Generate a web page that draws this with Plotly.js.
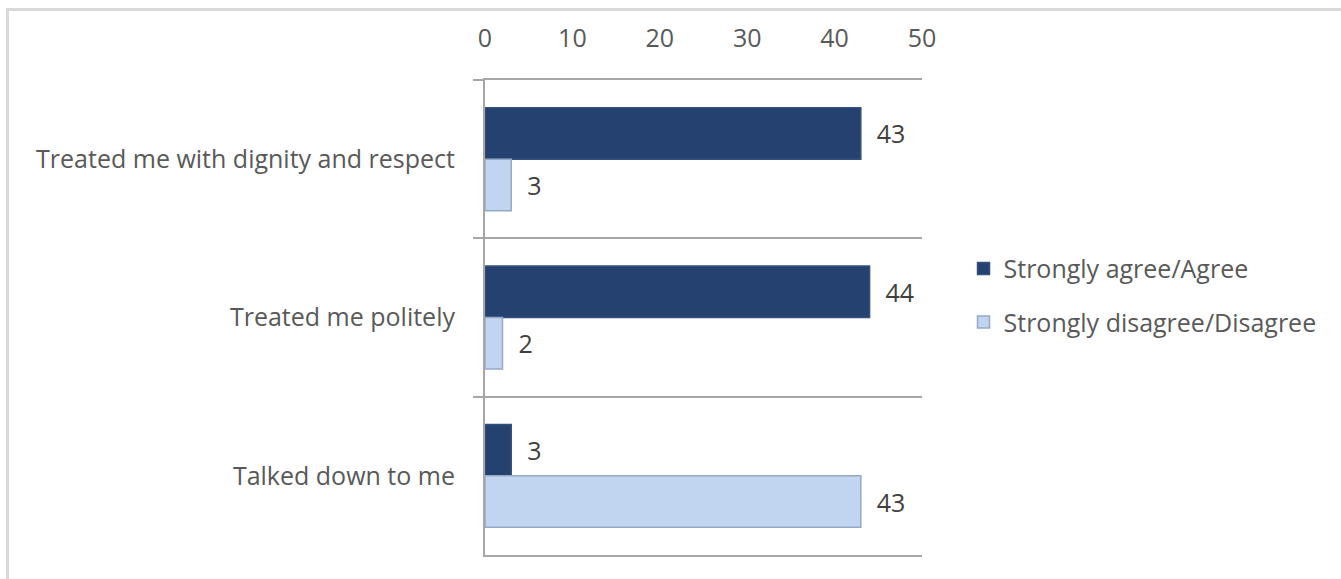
<!DOCTYPE html>
<html>
<head>
<meta charset="utf-8">
<script src="https://cdn.plot.ly/plotly-3.0.1.min.js"></script>
<style>
  html, body { margin: 0; padding: 0; background: #ffffff; }
  #wrap { position: relative; width: 1341px; height: 579px; overflow: hidden; }
  #chart { position: absolute; left: 0; top: 0; width: 1341px; height: 579px; }
  #frame { position: absolute; left: 6px; top: 8px; width: 1400px; height: 700px;
           border-top: 3px solid #d9d9d9; border-left: 3px solid #d9d9d9; pointer-events: none; }
</style>
</head>
<body>
<div id="wrap">
  <div id="chart"></div>
  <div id="frame"></div>
</div>
<script>
const categories = ["Treated me with dignity and respect", "Treated me politely", "Talked down to me"];
const seriesNames = ["Strongly agree/Agree", "Strongly disagree/Disagree"];
const agreeValues = [43, 44, 3];
const disagreeValues = [3, 2, 43];
const xTicks = [0, 10, 20, 30, 40, 50];

const FONT = "'Open Sans', 'Noto Sans', sans-serif";
const FS = 25;
const pad = "\u00a0\u00a0";

const traces = [
  {
    type: "bar", orientation: "h", name: seriesNames[0], legendgroup: "a",
    y: categories, x: agreeValues,
    marker: { color: "#254170", line: { color: "#34507e", width: 1.5 } },
    text: agreeValues.map(String), texttemplate: pad + "%{text}",
    textposition: "outside", cliponaxis: false,
    textfont: { family: FONT, size: FS, color: "#404040" },
    hoverinfo: "skip"
  },
  {
    type: "bar", orientation: "h", name: seriesNames[1], legendgroup: "b",
    y: categories, x: disagreeValues,
    marker: { color: "#c2d5f0", line: { color: "#95a9c6", width: 1.5 } },
    text: disagreeValues.map(String), texttemplate: pad + "%{text}",
    textposition: "outside", cliponaxis: false,
    textfont: { family: FONT, size: FS, color: "#404040" },
    hoverinfo: "skip"
  }
];

const layout = {
  width: 1341, height: 579,
  paper_bgcolor: "#ffffff", plot_bgcolor: "#ffffff",
  margin: { l: 485, r: 419, t: 80, b: 24, pad: 0 },
  barmode: "group", bargap: 0.35, bargroupgap: 0,
  font: { family: FONT, size: FS, color: "#595959" },
  showlegend: true,
  legend: {
    x: 1.095, xanchor: "left", y: 0.651, yanchor: "top",
    traceorder: "grouped", tracegroupgap: 18,
    font: { family: FONT, size: FS, color: "#595959" },
    itemwidth: 30, bgcolor: "rgba(0,0,0,0)"
  },
  xaxis: {
    side: "top", range: [0, 50], tickvals: xTicks, ticktext: xTicks.map(String),
    showgrid: false, zeroline: false, ticks: "", ticklabelstandoff: 21,
    showline: true, mirror: true, linecolor: "#a6a6a6", linewidth: 2,
    tickfont: { family: FONT, size: FS, color: "#595959" }, fixedrange: true
  },
  yaxis: {
    type: "category", autorange: "reversed",
    tickson: "boundaries", ticks: "outside", ticklen: 10, tickcolor: "#a6a6a6", tickwidth: 2,
    showgrid: true, gridcolor: "#a6a6a6", gridwidth: 2,
    showline: true, linecolor: "#a6a6a6", linewidth: 2,
    ticklabelstandoff: 23,
    tickfont: { family: FONT, size: FS, color: "#595959" }, fixedrange: true
  }
};

Plotly.newPlot("chart", traces, layout, { staticPlot: true, displayModeBar: false });
</script>
</body>
</html>
